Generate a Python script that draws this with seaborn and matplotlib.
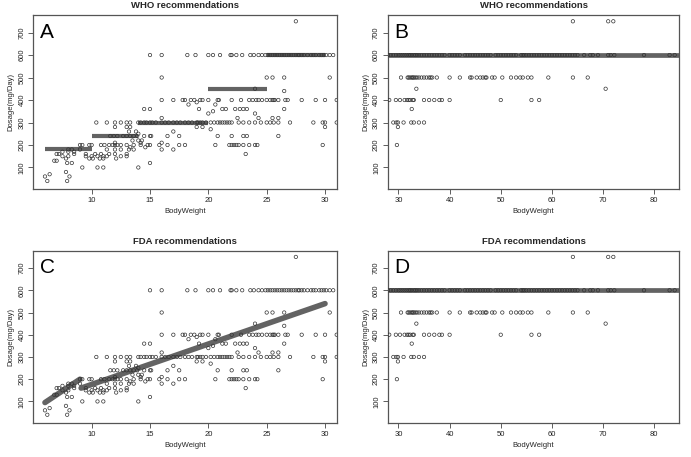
import matplotlib
matplotlib.use("Agg")
import matplotlib.pyplot as plt
import seaborn as sns
import pandas as pd

# ---- children (BodyWeight < 31 kg): weights, grouped by dose ----
child_weights = {
    750: [27.5],
    600: [15.0, 16.0, 18.2, 18.9, 20.0, 20.4, 21.0, 21.9, 22.0, 22.4, 22.9, 23.6,
          23.9, 24.3, 24.6, 24.9, 25.1, 25.3, 25.5, 25.7, 25.9, 26.1, 26.3, 26.5,
          26.7, 26.9, 27.1, 27.3, 27.5, 27.7, 27.8, 28.0, 28.2, 28.5, 28.8, 29.0,
          29.2, 29.5, 29.7, 29.9, 30.1, 30.4, 30.7],
    500: [16.0, 25.0, 25.5, 26.5, 30.4],
    450: [24.0],
    440: [26.5],
    400: [16.0, 17.0, 17.8, 18.0, 18.5, 18.8, 19.3, 19.5, 20.0, 20.8, 20.9, 22.0,
          22.8, 23.5, 23.8, 24.1, 24.3, 24.6, 25.0, 25.3, 25.5, 25.6, 25.7, 26.0,
          26.6, 26.8, 28.0, 29.2, 30.0, 31.0],
    390: [19.0],
    380: [18.3, 20.6],
    360: [14.5, 15.0, 19.2, 21.2, 21.5, 22.3, 22.7, 23.0, 23.3, 26.5],
    350: [20.4],
    340: [20.0, 24.0],
    320: [16.0, 22.5, 24.3, 25.5, 26.0],
    300: [10.4, 11.3, 12.0, 12.5, 13.0, 13.3, 14.0, 14.2, 14.5, 14.7, 15.0, 15.2,
          15.5, 16.0, 16.3, 16.6, 17.0, 17.3, 17.6, 18.0, 18.3, 18.6, 19.0, 19.1,
          19.3, 19.5, 19.8, 20.2, 20.5, 20.8, 21.0, 21.2, 21.4, 21.6, 21.8, 22.0,
          22.6, 23.0, 23.5, 24.0, 24.5, 25.0, 25.3, 25.6, 26.0, 27.0, 29.0, 29.8,
          30.0, 31.0],
    280: [12.0, 13.0, 13.3, 19.0, 19.5, 30.0],
    270: [20.2],
    260: [13.2, 13.8, 17.0],
    250: [14.0],
    240: [11.6, 11.9, 12.2, 12.7, 13.0, 13.3, 13.6, 13.9, 14.5, 15.0, 15.1, 16.5,
          17.5, 20.8, 22.0, 23.0, 23.3, 26.0],
    220: [13.5, 14.0, 14.3],
    210: [12.0, 14.2, 16.0],
    200: [9.0, 9.2, 9.8, 10.0, 10.8, 11.1, 11.5, 11.8, 12.0, 12.2, 12.5, 13.0,
          13.6, 14.2, 14.8, 15.0, 15.8, 16.5, 17.5, 18.0, 20.6, 21.8, 22.0, 22.2,
          22.4, 22.6, 23.0, 23.5, 24.0, 24.2, 29.8],
    190: [13.3, 14.6],
    180: [8.0, 8.3, 9.0, 11.3, 12.0, 12.5, 13.2, 13.6, 16.0, 17.0],
    170: [7.5, 8.0, 8.5],
    160: [7.0, 7.2, 8.5, 9.5, 10.3, 10.8, 11.5, 12.0, 13.0, 23.2],
    150: [7.5, 8.0, 9.5, 10.0, 10.5, 11.0, 11.3, 12.5, 13.0],
    140: [7.8, 9.8, 10.1, 10.7, 11.0, 12.1],
    130: [6.8, 7.0],
    120: [7.9, 8.3, 15.0],
    100: [9.2, 10.5, 11.0, 14.0],
    80: [7.8],
    70: [6.4],
    60: [6.0, 8.1],
    40: [6.2, 7.9],
}

# ---- adults (BodyWeight >= 28 kg) ----
adult_weights = {
    750: [64.1, 71.0, 72.0],
    600: [28.0, 28.5, 29.0, 29.5, 30.0, 30.4, 30.8, 31.2, 31.6, 32.0, 32.3, 32.6,
          33.0, 33.3, 33.6, 34.0, 34.5, 35.0, 35.5, 36.0, 36.5, 37.0, 37.5, 38.0,
          38.5, 39.0, 40.0, 40.5, 41.0, 41.5, 42.0, 43.0, 43.5, 44.0, 44.5, 45.0,
          45.5, 46.0, 46.5, 47.0, 47.5, 48.0, 49.0, 49.5, 50.0, 50.5, 51.0, 51.5,
          52.0, 52.5, 53.0, 54.0, 54.3, 54.6, 55.0, 55.5, 56.0, 56.5, 57.0, 57.5,
          58.0, 58.5, 59.0, 59.5, 60.0, 60.5, 61.0, 61.5, 62.0, 62.5, 63.0, 63.5,
          64.0, 64.5, 65.0, 66.3, 67.5, 68.0, 69.0, 71.0, 71.5, 72.2, 78.0, 83.0,
          84.0],
    500: [30.5, 31.8, 32.0, 32.3, 32.6, 32.8, 33.0, 33.3, 33.6, 34.0, 34.5, 35.0,
          35.5, 36.0, 36.3, 36.6, 37.5, 40.0, 42.0, 44.0, 44.3, 45.3, 46.0, 46.5,
          47.0, 47.2, 48.3, 48.8, 50.3, 52.0, 53.0, 53.8, 54.3, 55.3, 56.0, 59.3,
          64.1, 67.0],
    450: [33.5, 70.5],
    400: [28.2, 29.5, 30.3, 31.2, 31.7, 32.0, 32.3, 32.8, 33.0, 35.0, 36.0, 37.0,
          38.0, 38.5, 40.0, 50.0, 56.0, 57.5],
    360: [32.6],
    300: [29.0, 29.6, 29.9, 31.0, 32.5, 33.0, 34.0, 35.0],
    280: [29.9],
    200: [29.7],
}

# ---- recommended dosing lines ----
who_child_start = [6.0, 10.0, 14.0, 20.0, 25.0]
who_child_end = [10.0, 14.0, 20.0, 25.0, 30.0]
who_child_dose = [180, 240, 300, 450, 600]

adult_start = [28.0]
adult_end = [85.0]
adult_dose = [600]

fda_child_x = [[6.0, 9.0], [9.1, 30.0]]
fda_child_y = [[95, 200], [160, 540]]

y_ticks = [100, 200, 300, 400, 500, 600, 700]
child_xticks = [10, 15, 20, 25, 30]
adult_xticks = [30, 40, 50, 60, 70, 80]


def to_frame(groups):
    rows = []
    for dose, weights in groups.items():
        for w in weights:
            rows.append({"BodyWeight": w, "Dosage": dose})
    return pd.DataFrame(rows)


child_df = to_frame(child_weights)
adult_df = to_frame(adult_weights)

sns.set_style("ticks")
plt.rcParams["font.family"] = ["Liberation Sans", "DejaVu Sans"]

fig = plt.figure(figsize=(6.91, 4.57), dpi=100)

W, H = 691.0, 457.0


def make_axes(x0, x1, y0, y1):
    return fig.add_axes([x0 / W, 1 - y1 / H, (x1 - x0) / W, (y1 - y0) / H])


ax_a = make_axes(33.3, 336.7, 15.0, 189.3)
ax_b = make_axes(387.7, 679.3, 15.0, 189.3)
ax_c = make_axes(33.3, 336.7, 250.7, 423.0)
ax_d = make_axes(387.7, 679.3, 250.7, 423.0)

line_color = "#636363"
point_color = "#333333"

panels = [
    (ax_a, child_df, "A", "WHO recommendations", (5.0, 31.0), child_xticks),
    (ax_b, adult_df, "B", "WHO recommendations", (27.9, 84.9), adult_xticks),
    (ax_c, child_df, "C", "FDA recommendations", (5.0, 31.0), child_xticks),
    (ax_d, adult_df, "D", "FDA recommendations", (27.9, 84.9), adult_xticks),
]

for ax, df, letter, title, xlim, xticks in panels:
    sns.scatterplot(
        data=df,
        x="BodyWeight",
        y="Dosage",
        ax=ax,
        marker="o",
        s=6,
        facecolor="none",
        edgecolor=point_color,
        linewidth=0.5,
        zorder=3,
    )
    ax.set_xlim(*xlim)
    ax.set_ylim(3, 778)
    ax.set_xticks(xticks)
    ax.set_yticks(y_ticks)
    ax.set_yticklabels([str(t) for t in y_ticks], rotation=90, va="center")
    ax.tick_params(axis="both", labelsize=5.5, length=3.5, width=0.6,
                   color="#444444", pad=2, labelcolor="#222222")
    ax.set_xlabel("BodyWeight", fontsize=5.5, labelpad=3)
    ax.set_ylabel("Dosage(mg/Day)", fontsize=5.5, labelpad=3)
    ax.set_title(title, fontsize=6.8, fontweight="bold", pad=5)
    for side in ["top", "right", "left", "bottom"]:
        ax.spines[side].set_visible(True)
        ax.spines[side].set_color("#555555")
        ax.spines[side].set_linewidth(0.9)
    ax.text(0.022, 0.87, letter, transform=ax.transAxes,
            fontsize=15, va="baseline", ha="left", color="black")

# WHO child steps
ax_a.hlines(who_child_dose, who_child_start, who_child_end,
            colors=line_color, linewidth=3.0, zorder=2)
# adult flat dose (same in WHO and FDA)
for ax in [ax_b, ax_d]:
    ax.hlines(adult_dose, adult_start, adult_end,
              colors=line_color, linewidth=3.4, zorder=2)
# FDA child lines
for xs, ys in zip(fda_child_x, fda_child_y):
    sns.lineplot(x=xs, y=ys, ax=ax_c, color=line_color,
                 linewidth=4.0, zorder=2, sort=False, estimator=None)

fig.savefig("out.png", dpi=100)
plt.close(fig)
